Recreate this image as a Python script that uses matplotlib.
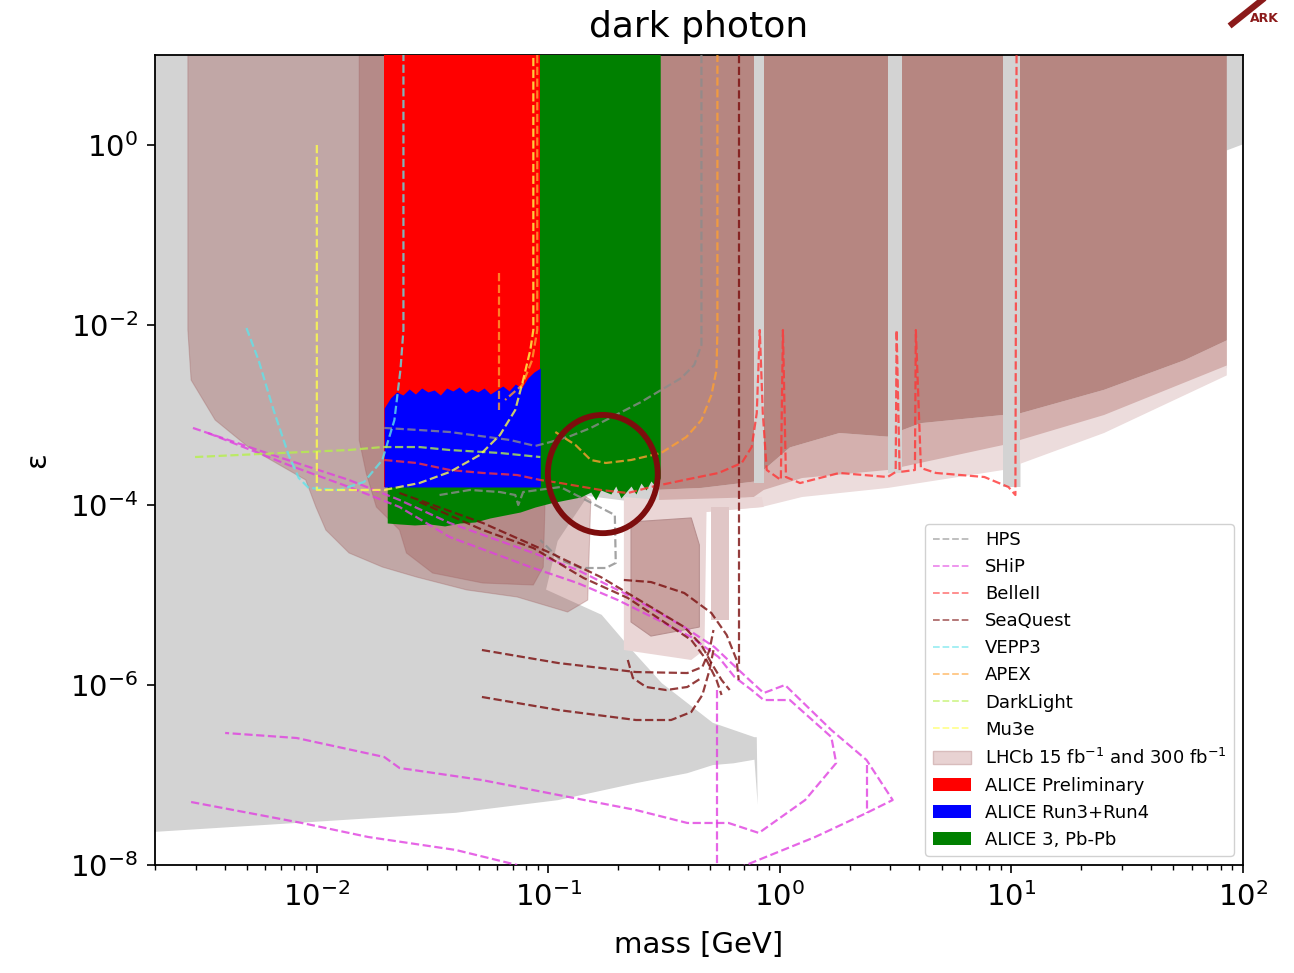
import numpy as np
import matplotlib
matplotlib.use("Agg")
import matplotlib.pyplot as plt
from matplotlib.patches import Patch, Ellipse
from matplotlib.lines import Line2D
from matplotlib.ticker import LogLocator, NullLocator, NullFormatter

# All shapes below are (log10(mass/GeV), log10(epsilon)) pairs.

# existing constraints (grey)
existing = [(-2.75, 1.05), (2.05, 1.05), (2.05, 0.056), (1.93, -0.06), (1.93, -2.478),
            (1.4, -3.0), (1.039, -3.25), (1.039, -3.8), (0.965, -3.8), (0.965, -3.333),
            (0.526, -3.55), (0.526, -3.644), (0.465, -3.644), (0.465, -3.611), (0.096, -3.7),
            (-0.07, -3.8), (-0.113, -3.8), (-0.113, -3.911), (-0.339, -3.978), (-0.522, -4.0),
            (-0.83, -3.9), (-0.96, -4.4), (-1.01, -4.94), (-0.77, -5.22), (-0.64, -5.61),
            (-0.51, -5.98), (-0.29, -6.42), (-0.11, -6.58), (-0.10, -6.58), (-0.096, -7.33),
            (-0.11, -6.83), (-0.2, -6.87), (-0.29, -6.89), (-0.4, -6.98), (-0.62, -7.09),
            (-0.96, -7.28), (-1.4, -7.42), (-2.07, -7.53), (-2.75, -7.64)]
# gaps in the LHCb prompt reach where existing limits show through: (m0, m1, bottom)
existing_gaps = [(-0.113, -0.07, -3.76), (0.465, 0.526, -3.644), (0.965, 1.039, -3.8)]

# LHCb displaced-vertex reach (translucent lobes)
lhcb_displaced_outer = [(-2.557, 1.0), (-2.557, -2.056), (-2.543, -2.611), (-2.439, -3.056),
                        (-2.296, -3.356), (-2.048, -3.722), (-2.004, -4.022), (-1.961, -4.278),
                        (-1.861, -4.533), (-1.717, -4.689), (-1.570, -4.8), (-1.352, -4.944),
                        (-1.135, -5.022), (-0.917, -5.189), (-0.830, -5.056), (-0.817, -3.944),
                        (-0.948, -3.722), (-1.013, 1.0)]
lhcb_displaced_inner = [(-1.817, 1.0), (-1.817, -3.278), (-1.787, -3.644), (-1.743, -4.022),
                        (-1.643, -4.278), (-1.613, -4.533), (-1.5, -4.756), (-1.283, -4.867),
                        (-1.065, -4.889), (-1.022, -4.689), (-1.013, -3.833), (-1.013, 1.0)]
# LHCb prompt reach (upper right)
lhcb_prompt = [(-0.522, 1.0), (1.93, 1.0), (1.93, -2.17), (1.748, -2.39), (1.4, -2.72),
               (1.039, -2.98), (0.883, -3.02), (0.609, -3.09), (0.526, -3.17), (0.465, -3.24),
               (0.257, -3.2), (0.043, -3.36), (-0.07, -3.61), (-0.113, -3.74), (-0.339, -3.81),
               (-0.522, -3.83)]
lhcb_prompt_edge = [(-0.522, -3.83), (-0.339, -3.81), (-0.113, -3.74), (-0.07, -3.61),
                    (0.043, -3.36), (0.257, -3.2), (0.465, -3.24), (0.526, -3.17), (0.609, -3.09),
                    (0.883, -3.02), (1.039, -2.98), (1.4, -2.72), (1.748, -2.39), (1.93, -2.17)]
lhcb_band_300 = [(-0.522, -4.0), (-0.339, -3.978), (-0.113, -3.911), (-0.07, -3.833),
                 (0.096, -3.7), (0.465, -3.611), (0.965, -3.333), (1.4, -3.0), (1.93, -2.45)]
lhcb_band_15 = [(-0.522, -4.111), (-0.339, -4.078), (-0.078, -4.022), (0.096, -3.911),
                (0.465, -3.811), (0.965, -3.611), (1.4, -3.2), (1.93, -2.56)]
lhcb_low_light = [(-0.674, -3.911), (-0.522, -3.944), (-0.078, -3.911), (-0.07, -4.022),
                  (-0.317, -4.078), (-0.326, -5.611), (-0.383, -5.722), (-0.674, -5.611)]
lhcb_low_box = [(-0.643, -4.189), (-0.383, -4.144), (-0.348, -4.444), (-0.348, -5.356),
                (-0.557, -5.456), (-0.643, -5.3)]
lhcb_low_strip = [(-0.296, -4.022), (-0.222, -4.022), (-0.222, -5.278), (-0.296, -5.278)]

# ALICE
alice_prelim_m = (-1.709, -1.035)
alice_run34_bottom = -3.8
alice_run34_top = [-2.922, -2.811, -2.744, -2.778, -2.711, -2.767, -2.7, -2.744, -2.722,
                   -2.778, -2.7, -2.733, -2.689, -2.756, -2.711, -2.744, -2.7, -2.767,
                   -2.722, -2.678, -2.733, -2.656, -2.7, -2.589, -2.522, -2.478]
alice3_m = [-1.696, -1.643, -1.578, -1.513, -1.448, -1.383, -1.317, -1.252, -1.187, -1.122,
            -1.057, -0.991, -0.926, -0.861, -0.817, -0.796, -0.774, -0.730, -0.709, -0.687,
            -0.643, -0.622, -0.6, -0.578, -0.557, -0.535, -0.517]
alice3_bottom = [-4.2, -4.211, -4.222, -4.211, -4.233, -4.2, -4.189, -4.144, -4.111, -4.078,
                 -4.022, -3.978, -3.944, -3.911, -3.856, -3.944, -3.833, -3.878, -3.789,
                 -3.922, -3.789, -3.878, -3.756, -3.833, -3.733, -3.8, -3.7]

# projected sensitivities (dashed)
hps = [
    [(-0.339, 1.0), (-0.339, -2.222), (-0.370, -2.444), (-0.426, -2.589), (-0.513, -2.722),
     (-0.600, -2.856), (-0.709, -3.0), (-0.817, -3.144), (-0.904, -3.233), (-0.991, -3.3),
     (-1.057, -3.344), (-1.165, -3.278), (-1.296, -3.233), (-1.426, -3.189), (-1.557, -3.167),
     (-1.709, -3.144)],
    [(-1.470, -3.889), (-1.339, -3.833), (-1.209, -3.856), (-1.143, -3.889), (-1.130, -4.0),
     (-1.109, -3.856), (-0.948, -3.8), (-0.839, -3.944), (-0.713, -4.111), (-0.709, -4.644),
     (-0.752, -4.7), (-0.861, -4.7), (-0.948, -4.611), (-1.035, -4.389)],
]
ship = [
    [(-2.535, -3.144), (-2.152, -3.478), (-1.861, -3.722), (-1.643, -3.944), (-1.426, -4.2),
     (-1.065, -4.533), (-0.874, -4.722), (-0.674, -4.978), (-0.413, -5.356), (-0.283, -5.578),
     (-0.178, -5.833), (-0.122, -5.967), (-0.070, -6.089), (0.022, -6.0), (0.222, -6.5),
     (0.374, -6.833), (0.487, -7.278), (0.374, -7.422), (0.152, -7.689), (-0.178, -8.033)],
    [(-2.470, -3.2), (-2.122, -3.556), (-1.861, -3.8), (-1.643, -4.022), (-1.426, -4.356),
     (-1.078, -4.689), (-0.874, -4.867), (-0.7, -5.056), (-0.526, -5.278), (-0.383, -5.467),
     (-0.265, -5.689), (-0.196, -5.911), (-0.122, -6.056), (-0.070, -6.167), (0.043, -6.167),
     (0.222, -6.578), (0.243, -6.867), (0.109, -7.278), (-0.091, -7.644), (-0.222, -7.533),
     (-0.4, -7.533), (-0.622, -7.389), (-0.913, -7.244), (-1.287, -7.056), (-1.643, -6.922),
     (-1.709, -6.8), (-2.087, -6.589), (-2.396, -6.533)],
    [(-0.270, -6.056), (-0.270, -8.0)],
    [(0.374, -6.889), (0.374, -7.422)],
    [(-2.543, -7.3), (-2.065, -7.533), (-1.778, -7.689), (-1.4, -7.833), (-1.135, -8.0)],
]
belle2 = [
    [(-1.709, -3.5), (-1.570, -3.533), (-1.426, -3.611), (-1.283, -3.644), (-1.135, -3.667),
     (-1.035, -3.722), (-0.948, -3.756), (-0.774, -3.833), (-0.657, -3.867), (-0.557, -3.8),
     (-0.413, -3.722), (-0.265, -3.644), (-0.165, -3.533), (-0.122, -3.356), (-0.1, -2.978),
     (-0.087, -2.056), (-0.074, -2.978), (-0.057, -3.611), (0.004, -3.722), (0.013, -2.056),
     (0.026, -3.689), (0.087, -3.756), (0.257, -3.644), (0.465, -3.689), (0.5, -3.633),
     (0.504, -2.056), (0.517, -3.633), (0.583, -3.611), (0.587, -2.056), (0.609, -3.589),
     (0.674, -3.644), (0.883, -3.689), (0.987, -3.8), (1.017, -3.889), (1.022, 1.0)],
]
seaquest = [
    [(-0.178, 1.0), (-0.178, -5.778)],
    [(-1.643, -3.867), (-1.283, -4.2), (-0.991, -4.533), (-0.774, -4.8), (-0.557, -5.133),
     (-0.413, -5.356), (-0.339, -5.556), (-0.296, -5.756), (-0.252, -5.944), (-0.217, -6.056)],
    [(-1.557, -3.967), (-1.283, -4.278), (-1.065, -4.478), (-0.848, -4.811), (-0.657, -5.033),
     (-0.513, -5.278), (-0.383, -5.5), (-0.317, -5.722), (-0.274, -5.944), (-0.252, -6.111)],
    [(-0.674, -4.833), (-0.557, -4.856), (-0.413, -4.978), (-0.296, -5.2), (-0.230, -5.444),
     (-0.187, -5.722), (-0.178, -5.944)],
    [(-1.287, -5.611), (-0.957, -5.756), (-0.622, -5.856), (-0.4, -5.867), (-0.335, -5.8),
     (-0.304, -5.611), (-0.287, -5.389)],
    [(-1.287, -6.133), (-0.957, -6.278), (-0.622, -6.389), (-0.470, -6.389), (-0.383, -6.3),
     (-0.335, -6.111), (-0.304, -5.833), (-0.287, -5.611)],
    [(-0.657, -5.722), (-0.635, -5.922), (-0.578, -6.022), (-0.491, -6.056), (-0.4, -6.022),
     (-0.339, -5.922)],
]
vepp3 = [
    [(-2.304, -2.033), (-2.252, -2.389), (-2.187, -2.944), (-2.122, -3.444), (-2.078, -3.7),
     (-2.035, -3.811), (-1.904, -3.833), (-1.796, -3.744), (-1.717, -3.5), (-1.665, -3.056),
     (-1.639, -2.5), (-1.626, -2.056), (-1.626, 1.0)],
]
apex = [
    [(-1.213, -1.422), (-1.213, -2.944)],
    [(-0.970, -3.189), (-0.883, -3.333), (-0.817, -3.5), (-0.752, -3.533), (-0.643, -3.5),
     (-0.513, -3.422), (-0.404, -3.244), (-0.339, -3.056), (-0.296, -2.778), (-0.274, -2.5),
     (-0.270, -2.056), (-0.270, 1.0)],
    [(-1.048, 1.0), (-1.048, -2.056), (-1.070, -2.389), (-1.113, -2.667), (-1.187, -2.833)],
]
darklight = [
    [(-2.526, -3.467), (-2.152, -3.422), (-1.861, -3.389), (-1.717, -3.356), (-1.557, -3.356),
     (-1.426, -3.389), (-1.209, -3.422), (-1.035, -3.467)],
]
mu3e = [
    [(-2.0, 0.0), (-2.0, -3.833), (-1.709, -3.833), (-1.557, -3.756), (-1.426, -3.633),
     (-1.296, -3.444), (-1.209, -3.222), (-1.143, -2.944), (-1.109, -2.611), (-1.078, -2.278),
     (-1.065, -2.056), (-1.065, 1.0)],
]

experiments = ["HPS", "SHiP", "BelleII", "SeaQuest", "VEPP3", "APEX", "DarkLight", "Mu3e"]
curves = [hps, ship, belle2, seaquest, vepp3, apex, darklight, mu3e]
colors = ["#8c8c8c", "#e040e0", "#ff3535", "#7a0c0c", "#5fe3ea", "#ffa030", "#b5f04a", "#ffff4a"]

highlight = (-0.765, -3.656)   # circled region (log10 m, log10 eps)

# ---------------------------------------------------------------------------
def arr(pts):
    a = np.asarray(pts, dtype=float)
    return 10 ** a[:, 0], 10 ** a[:, 1]


fig = plt.figure(figsize=(12.94, 9.73), dpi=100)
ax = fig.add_axes([155 / 1294, 1 - 865 / 973, 1088 / 1294, 810 / 973])
ax.set_xscale("log")
ax.set_yscale("log")
ax.set_xlim(2e-3, 1e2)
ax.set_ylim(1e-8, 1e1)

grey = "#d3d3d3"
x, y = arr(existing)
ax.fill(x, y, color=grey, lw=0, zorder=1)

# LHCb displaced lobes
for poly in (lhcb_displaced_outer, lhcb_displaced_inner):
    x, y = arr(poly)
    ax.fill(x, y, color="#9e4f4c", alpha=0.33, lw=0.8, ec="#a06060", zorder=2)

# LHCb prompt: bands then main body
edge = np.asarray(lhcb_prompt_edge)
b300 = np.asarray(lhcb_band_300)
b15 = np.asarray(lhcb_band_15)
poly15 = np.vstack([edge, b15[::-1]])
ax.fill(10 ** poly15[:, 0], 10 ** poly15[:, 1], color="#ecdcdc", lw=0, zorder=2)
poly300 = np.vstack([edge, b300[::-1]])
ax.fill(10 ** poly300[:, 0], 10 ** poly300[:, 1], color="#d4b0ae", lw=0, zorder=2)
x, y = arr(lhcb_prompt)
ax.fill(x, y, color="#b68681", lw=0, zorder=2)
for m0, m1, bot in existing_gaps:
    ax.fill_between([10 ** m0, 10 ** m1], 10 ** bot, 20, color=grey, lw=0, zorder=2.1)

x, y = arr(lhcb_low_light)
ax.fill(x, y, color="#ead6d6", lw=0, zorder=2)
x, y = arr(lhcb_low_strip)
ax.fill(x, y, color="#e0c6c6", lw=0, zorder=2)
x, y = arr(lhcb_low_box)
ax.fill(x, y, color="#c9a19f", ec="#b89090", lw=0.8, zorder=2)

# ALICE
am = np.asarray(alice3_m)
ax.fill_between(10 ** am, 10 ** np.asarray(alice3_bottom), 20, color="#008000", lw=0, zorder=3)
ax.fill_between([10 ** alice_prelim_m[0], 10 ** alice_prelim_m[1]],
                10 ** alice_run34_bottom, 20, color="#ff0000", lw=0, zorder=3)
bm = np.linspace(alice_prelim_m[0], alice_prelim_m[1], len(alice_run34_top))
ax.fill_between(10 ** bm, 10 ** alice_run34_bottom, 10 ** np.asarray(alice_run34_top),
                color="#0000ff", lw=0, zorder=3)

# dashed sensitivity curves
for name, group, c in zip(experiments, curves, colors):
    for seg in group:
        x, y = arr(seg)
        ax.plot(x, y, ls="--", color=c, alpha=0.8, lw=1.6, zorder=4)

# highlight ring
ax.figure.canvas.draw()
cx, cy = ax.transAxes.inverted().transform(
    ax.transData.transform((10 ** highlight[0], 10 ** highlight[1])))
ax.add_patch(Ellipse((cx, cy), 0.101, 0.146, transform=ax.transAxes, fill=False,
                     ec="#7d0d0d", lw=4.2, zorder=6))

# axes styling
ax.xaxis.set_major_locator(LogLocator(base=10, numticks=20))
ax.xaxis.set_minor_locator(LogLocator(base=10, subs=np.arange(2, 10), numticks=20))
ax.xaxis.set_minor_formatter(NullFormatter())
ax.set_yticks([1e-8, 1e-6, 1e-4, 1e-2, 1e0])
ax.yaxis.set_minor_locator(NullLocator())
ax.tick_params(which="major", labelsize=21, length=6, width=1.2, pad=6)
ax.tick_params(which="minor", length=3.5, width=1.0)
for s in ax.spines.values():
    s.set_linewidth(1.3)

ax.set_title("dark photon", fontsize=26, pad=13)
ax.set_xlabel("mass [GeV]", fontsize=21, labelpad=14)
ax.set_ylabel("ε", fontsize=21, labelpad=14)

handles = [Line2D([], [], ls="--", color=c, alpha=0.6, lw=1.3) for c in colors]
handles += [Patch(fc="#e8d2d2", ec="#d8bcbc"), Patch(fc="#ff0000"),
            Patch(fc="#0000ff"), Patch(fc="#008000")]
labels = experiments + [r"LHCb 15 fb$^{-1}$ and 300 fb$^{-1}$", "ALICE Preliminary",
                        "ALICE Run3+Run4", "ALICE 3, Pb-Pb"]
leg = ax.legend(handles, labels, loc="lower right", fontsize=13, handlelength=2.1,
                labelspacing=0.5, framealpha=0.9)
leg.set_zorder(10)

# small logo mark in the corner
fig.add_artist(Line2D([1232 / 1294, 1262 / 1294], [1 - 24 / 973, 1 - 0 / 973],
                      color="#8b1a1a", lw=4.5, transform=fig.transFigure))
fig.text(1250 / 1294, 1 - 19 / 973, "ARK", color="#8b1a1a", fontsize=9,
         fontweight="bold", va="center", ha="left")

fig.savefig("out.png", dpi=100)
